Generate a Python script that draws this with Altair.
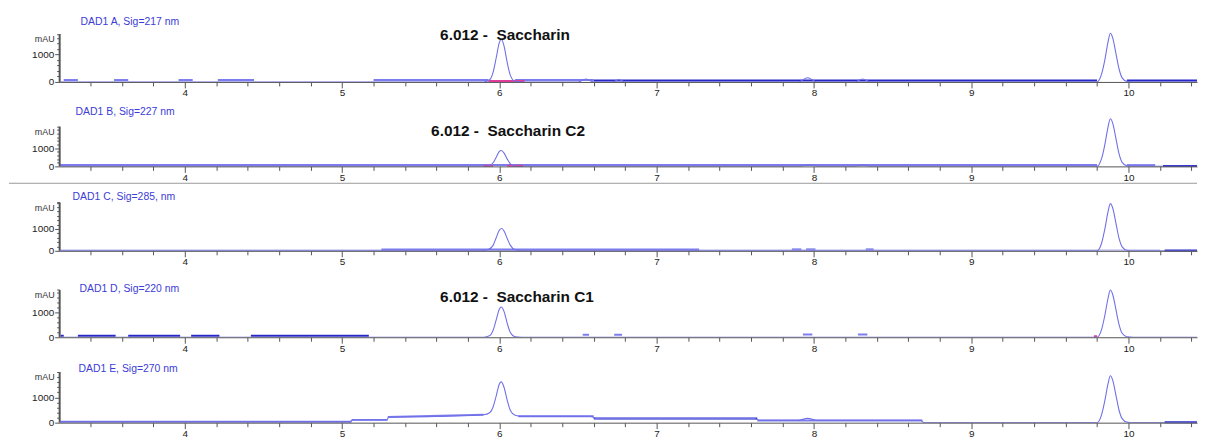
import altair as alt
import pandas as pd

# ---------------- data ----------------
XMIN, XMAX = 3.204, 10.436

panel_ids = ["A", "B", "C", "D", "E"]
signal_labels = ["DAD1 A, Sig=217 nm", "DAD1 B, Sig=227 nm", "DAD1 C, Sig=285, nm",
                 "DAD1 D, Sig=220 nm", "DAD1 E, Sig=270 nm"]
peak_labels = ["6.012 -\u00a0 Saccharin", "6.012 -\u00a0 Saccharin C2", None, "6.012 -\u00a0 Saccharin C1", None]

# main traces (time in min, signal in mAU)
trace_t = {
    "A": [3.204, 5.90, 5.94, 5.96, 5.98, 6.00, 6.012, 6.03, 6.05, 6.07, 6.10, 6.14,
          6.50, 6.55, 6.60, 6.72, 6.76, 6.80, 7.90, 7.96, 8.02, 8.26, 8.31, 8.36,
          9.80, 9.83, 9.85, 9.87, 9.885, 9.90, 9.92, 9.94, 9.96, 9.99, 10.03, 10.436],
    "B": [3.204, 5.90, 5.94, 5.96, 5.98, 6.00, 6.012, 6.03, 6.05, 6.07, 6.10, 6.14,
          7.91, 7.97, 8.03, 8.26, 8.31, 8.36,
          9.80, 9.83, 9.85, 9.87, 9.885, 9.90, 9.92, 9.94, 9.96, 9.99, 10.03, 10.436],
    "C": [3.204, 5.88, 5.93, 5.96, 5.98, 6.00, 6.015, 6.03, 6.05, 6.07, 6.10, 6.15,
          9.80, 9.83, 9.85, 9.87, 9.885, 9.90, 9.92, 9.94, 9.96, 9.99, 10.03, 10.436],
    "D": [3.204, 5.90, 5.94, 5.96, 5.98, 6.00, 6.012, 6.03, 6.05, 6.07, 6.10, 6.14,
          9.80, 9.83, 9.85, 9.87, 9.885, 9.90, 9.92, 9.94, 9.96, 9.99, 10.03, 10.436],
    "E": [3.204, 5.05, 5.07, 5.28, 5.30, 5.60, 5.90, 5.94, 5.96, 5.98, 6.00, 6.012, 6.03,
          6.05, 6.07, 6.10, 6.14, 6.58, 6.62, 7.62, 7.66, 7.90, 7.96, 8.02, 8.68, 8.70,
          9.80, 9.83, 9.85, 9.87, 9.885, 9.90, 9.92, 9.94, 9.96, 9.99, 10.03, 10.436],
}
trace_v = {
    "A": [0, 0, 90, 350, 880, 1440, 1550, 1300, 700, 240, 20, 0,
          0, 110, 0, 0, 80, 0, 0, 150, 0, 0, 110, 0,
          0, 300, 800, 1450, 1770, 1600, 1050, 480, 150, 20, 0, 0],
    "B": [0, 0, 50, 200, 500, 820, 875, 730, 400, 140, 15, 0,
          0, 90, 0, 0, 70, 0,
          0, 450, 1200, 2150, 2620, 2380, 1550, 700, 220, 30, 0, 0],
    "C": [0, 0, 60, 250, 600, 950, 1020, 900, 560, 250, 50, 0,
          0, 370, 1000, 1780, 2160, 1960, 1280, 580, 180, 25, 0, 0],
    "D": [0, 0, 70, 280, 700, 1140, 1220, 1030, 560, 190, 20, 0,
          0, 330, 880, 1560, 1900, 1720, 1130, 520, 160, 20, 0, 0],
    "E": [40, 40, 110, 110, 220, 250, 310, 400, 620, 1060, 1530, 1610, 1390,
          880, 480, 290, 250, 250, 160, 160, 90, 90, 170, 90, 90, 0,
          0, 330, 870, 1530, 1855, 1680, 1100, 500, 160, 20, 0, 0],
}

# baseline / integration segments: (t0, t1, v0, v1, style)
segments = {
    "A": [(3.23, 3.32, 70, 70, "light"), (3.55, 3.64, 70, 70, "light"), (3.96, 4.05, 70, 70, "light"),
          (4.21, 4.44, 70, 70, "light"), (5.20, 5.93, 70, 70, "light"), (6.10, 6.60, 70, 70, "light"),
          (5.93, 6.16, 35, 35, "pink"), (6.60, 9.80, 50, 50, "dark"), (9.99, 10.436, 50, 50, "dark")],
    "B": [(3.204, 9.80, 70, 70, "light"), (9.99, 10.17, 70, 70, "light"),
          (5.90, 5.96, 35, 35, "pink"), (6.05, 6.15, 35, 35, "pink"), (10.22, 10.436, 15, 15, "dark")],
    "C": [(3.204, 10.20, 25, 25, "faint"), (5.25, 7.27, 60, 60, "light"),
          (7.86, 7.92, 70, 70, "blob"), (7.95, 8.01, 70, 70, "blob"), (8.33, 8.38, 70, 70, "blob"),
          (10.23, 10.436, 15, 15, "dark")],
    "D": [(3.21, 3.23, 60, 60, "dark"), (3.32, 3.56, 60, 60, "dark"), (3.64, 3.97, 60, 60, "dark"),
          (4.04, 4.22, 60, 60, "dark"), (4.42, 5.17, 60, 60, "dark"),
          (6.53, 6.57, 100, 100, "light"), (6.73, 6.78, 100, 100, "light"),
          (7.93, 7.99, 110, 110, "light"), (8.28, 8.34, 110, 110, "light"),
          (9.78, 9.80, 40, 40, "pink")],
    "E": [(3.204, 5.06, 40, 40, "light"), (5.06, 5.29, 110, 110, "light"), (5.29, 5.90, 220, 310, "light"),
          (6.12, 6.60, 250, 250, "light"), (6.60, 7.64, 160, 160, "dark"), (7.64, 8.69, 90, 90, "light"),
          (10.23, 10.436, 15, 15, "dark")],
}

# y-axis extent (mAU at top of the drawn axis line)
axis_top = [1744, 2186, 2205, 1900, 2000]
# label positions in data coords
signal_pos = [(3.337, 2166), (3.305, 2967), (3.286, 2455), (3.330, 1960), (3.324, 2118)]
peak_label_pos = [(5.623, 1697), (5.566, 1967), None, (5.623, 1600), None]

# ---------------- layout ----------------
W = 1145
heights = [73, 65, 65, 67, 66]
px_per_1000 = [27.7, 18.3, 22.0, 25.0, 25.5]
SPACING = 20

style_dom = ["light", "dark", "pink", "faint", "blob", "axis"]
style_col = ["#7c7cee", "#2828c8", "#e23c9c", "#c8c8f2", "#8a8aee", "#555555"]
style_w = [2, 2, 1.5, 1.5, 3.5, 1]

FONT = "Liberation Sans"

xticks = [round(3.4 + 0.2 * i, 1) for i in range(36)]
X_AXIS = alt.Axis(values=xticks, title=None, grid=False,
                  labelExpr="abs(datum.value - round(datum.value)) < 0.001 ? format(round(datum.value), 'd') : ''",
                  tickSize={"condition": {"test": "abs(datum.value - round(datum.value)) < 0.001", "value": 6}, "value": 4},
                  domainColor="#555555", tickColor="#555555", labelColor="#222222",
                  labelFont=FONT, labelFontSize=10, labelPadding=0, zindex=1, labelFlush=False)


def make_panel(i):
    pid = panel_ids[i]
    h = heights[i]
    ytop = h / px_per_1000[i] * 1000
    top = axis_top[i]
    yticks = [v for v in range(0, 2600, 200) if v <= top] + [top]
    y_axis = alt.Axis(values=yticks, title=None, grid=False, domain=False, format="d",
                      labelExpr="datum.value === 0 || datum.value === 1000 ? datum.label : ''",
                      tickSize={"condition": {"test": "datum.value === 0 || datum.value === 1000", "value": 5}, "value": 3},
                      tickColor="#555555", labelColor="#222222", labelFont=FONT, labelFontSize=10,
                      labelPadding=1, minExtent=51, maxExtent=51, zindex=1)
    xs = alt.Scale(domain=[XMIN, XMAX], nice=False, zero=False)
    ys = alt.Scale(domain=[0, ytop], nice=False, zero=False)

    tr = pd.DataFrame({"t": trace_t[pid], "v": trace_v[pid]})
    line = alt.Chart(tr).mark_line(interpolate="monotone", color="#7070e8", strokeWidth=1.1, clip=True).encode(
        x=alt.X("t:Q", scale=xs, axis=X_AXIS),
        y=alt.Y("v:Q", scale=ys, axis=y_axis),
    )

    seg_rows = [dict(t0=a, t1=b, v0=c, v1=d, style=s) for a, b, c, d, s in segments[pid]]
    seg_rows.append(dict(t0=XMIN, t1=XMIN, v0=0, v1=top, style="axis"))
    seg = alt.Chart(pd.DataFrame(seg_rows)).mark_rule().encode(
        x=alt.X("t0:Q", scale=xs, axis=X_AXIS),
        x2="t1:Q",
        y=alt.Y("v0:Q", scale=ys, axis=y_axis),
        y2="v1:Q",
        color=alt.Color("style:N", scale=alt.Scale(domain=style_dom, range=style_col), legend=None),
        strokeWidth=alt.StrokeWidth("style:N", scale=alt.Scale(domain=style_dom, range=style_w), legend=None),
    )

    layers = [seg, line]

    sx, sy = signal_pos[i]
    sig = alt.Chart(pd.DataFrame({"t": [sx], "v": [sy], "txt": [signal_labels[i]]})).mark_text(
        align="left", baseline="middle", font=FONT, fontSize=10.5, color="#3c3cd8").encode(
        x=alt.X("t:Q", scale=xs, axis=X_AXIS), y=alt.Y("v:Q", scale=ys, axis=y_axis), text="txt:N")
    layers.append(sig)

    mau = alt.Chart(pd.DataFrame({"t": [XMIN], "v": [top], "txt": ["mAU"]})).mark_text(
        align="right", baseline="middle", dx=-5, dy=5, font=FONT, fontSize=9, color="#333333").encode(
        x=alt.X("t:Q", scale=xs, axis=X_AXIS), y=alt.Y("v:Q", scale=ys, axis=y_axis), text="txt:N")
    layers.append(mau)

    if peak_labels[i]:
        px, py = peak_label_pos[i]
        pk = alt.Chart(pd.DataFrame({"t": [px], "v": [py], "txt": [peak_labels[i]]})).mark_text(
            align="left", baseline="middle", font=FONT, fontSize=15.5, fontWeight="bold", color="#111111").encode(
            x=alt.X("t:Q", scale=xs, axis=X_AXIS), y=alt.Y("v:Q", scale=ys, axis=y_axis), text="txt:N")
        layers.append(pk)

    if pid == "C":
        sep = alt.Chart(pd.DataFrame({"a": [0]})).mark_rule(color="#9a9a9a", strokeWidth=1).encode(
            x=alt.value(-51), x2=alt.value(W), y=alt.value(-3))
        layers.append(sep)

    return alt.layer(*layers).properties(width=W, height=h)


chart = alt.vconcat(*[make_panel(i) for i in range(5)], spacing=SPACING, bounds="flush").properties(
    padding={"left": 0, "top": 0, "right": 0, "bottom": 0}
).configure_view(stroke=None)

chart.save("out.html", embed_options={"renderer": "svg", "actions": False})
